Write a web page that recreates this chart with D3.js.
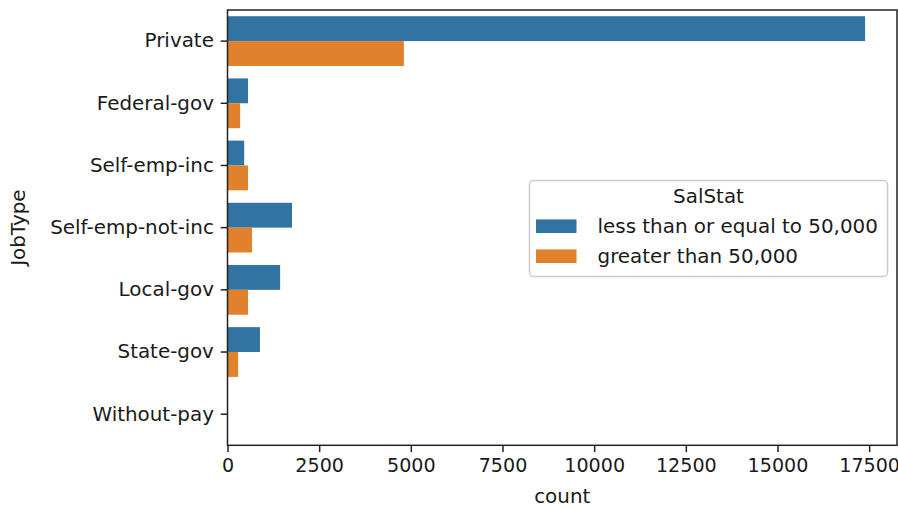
<!DOCTYPE html>
<html>
<head>
<meta charset="utf-8">
<script src="https://cdn.jsdelivr.net/npm/d3@7"></script>
<style>
  html, body { margin: 0; padding: 0; background: #fff; }
  svg { display: block; font-family: "DejaVu Sans", sans-serif; }
</style>
</head>
<body>
<svg id="chart" width="898" height="508"></svg>
<script>
const categories = ["Private", "Federal-gov", "Self-emp-inc", "Self-emp-not-inc", "Local-gov", "State-gov", "Without-pay"];
const seriesNames = ["less than or equal to 50,000", "greater than 50,000"];
const lessEqual50k = [17390, 560, 455, 1760, 1435, 885, 14];
const greater50k = [4810, 345, 560, 670, 560, 290, 0];
const xTicks = [0, 2500, 5000, 7500, 10000, 12500, 15000, 17500];
const colors = ["#3274a1", "#e1812c"];

(function () {
const svg = d3.select("#chart");
const mLeft = 227.5, mRight = 897, mTop = 10, mBottom = 445.3;
const fontSize = 19.9;
const tickFontSize = 19.1;
const textColor = "#1a1a1a";

const seriesValues = [lessEqual50k, greater50k];
const maxVal = d3.max(seriesValues.flat());
const x = d3.scaleLinear().domain([0, maxVal * 1.05]).range([mLeft, mRight]);
const y = d3.scaleBand().domain(categories).range([mTop, mBottom]).paddingInner(0.2).paddingOuter(0.1);
const ySub = d3.scaleBand().domain(seriesNames).range([0, y.bandwidth()]);

const rows = categories.map((c, i) => ({ cat: c, vals: seriesNames.map((s, j) => ({ s, j, v: seriesValues[j][i] })) }));

const g = svg.append("g");
g.selectAll("g.cat").data(rows).join("g")
  .attr("class", "cat")
  .attr("transform", d => `translate(0,${y(d.cat)})`)
  .selectAll("rect").data(d => d.vals).join("rect")
  .attr("x", x(0))
  .attr("y", d => ySub(d.s))
  .attr("width", d => x(d.v) - x(0))
  .attr("height", ySub.bandwidth())
  .attr("fill", d => colors[d.j]);

// Axes
const xAxis = d3.axisBottom(x).tickValues(xTicks).tickFormat(d3.format("d")).tickSizeOuter(0).tickSize(6.8).tickPadding(6.8);
const gx = svg.append("g").attr("transform", `translate(0,${mBottom})`).call(xAxis);
const yAxisGen = d3.axisLeft(y).tickSizeOuter(0).tickSize(6.8).tickPadding(6.8);
const gy = svg.append("g").attr("transform", `translate(${mLeft},0)`).call(yAxisGen);
[gx, gy].forEach(a => {
  a.select(".domain").remove();
  a.selectAll(".tick line").attr("stroke", "#222").attr("stroke-width", 1.5);
  a.selectAll(".tick text").attr("fill", textColor).style("font-family", "DejaVu Sans");
});
gx.selectAll(".tick text").style("font-size", tickFontSize + "px");
gy.selectAll(".tick text").style("font-size", fontSize + "px");

// Spines (frame)
svg.append("rect")
  .attr("x", mLeft).attr("y", mTop)
  .attr("width", mRight - mLeft).attr("height", mBottom - mTop)
  .attr("fill", "none").attr("stroke", "#222").attr("stroke-width", 1.5);

// Axis labels
svg.append("text").attr("x", (mLeft + mRight) / 2).attr("y", 503)
  .attr("text-anchor", "middle").attr("fill", textColor)
  .style("font-size", fontSize + "px").text("count");
svg.append("text").attr("transform", `translate(25,${(mTop + mBottom) / 2}) rotate(-90)`)
  .attr("text-anchor", "middle").attr("fill", textColor)
  .style("font-size", fontSize + "px").text("JobType");

// Legend
const lg = svg.append("g");
lg.append("rect").attr("x", 529.5).attr("y", 180.5).attr("width", 358).attr("height", 96)
  .attr("rx", 4).attr("ry", 4)
  .attr("fill", "#fff").attr("fill-opacity", 0.8)
  .attr("stroke", "#cccccc").attr("stroke-width", 1.5);
lg.append("text").attr("x", 708.5).attr("y", 203).attr("text-anchor", "middle")
  .attr("fill", textColor).style("font-size", fontSize + "px").text("SalStat");
seriesNames.forEach((s, i) => {
  const base = 233 + i * 30;
  lg.append("rect").attr("x", 536).attr("y", base - 13.6).attr("width", 40.5).attr("height", 13.6)
    .attr("fill", colors[i]);
  lg.append("text").attr("x", 597.5).attr("y", base)
    .attr("fill", textColor).style("font-size", fontSize + "px").text(s);
});
})();
</script>
</body>
</html>
